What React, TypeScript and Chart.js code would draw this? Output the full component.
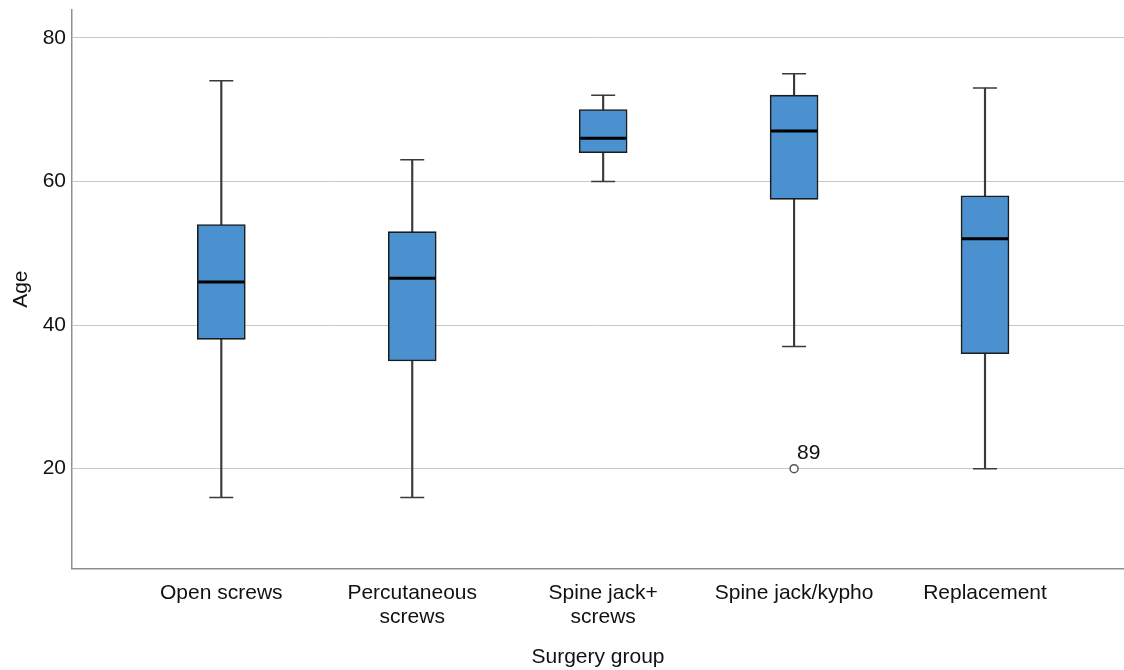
import React, { useEffect, useRef } from "react";
import { Chart, registerables } from "chart.js";

Chart.register(...registerables);

const categories: string[][] = [
  ["Open screws"],
  ["Percutaneous", "screws"],
  ["Spine jack+", "screws"],
  ["Spine jack/kypho"],
  ["Replacement"],
];
const whiskerLow = [16, 16, 60, 37, 20];
const q1 = [38, 35, 64, 57.5, 36];
const medians = [46, 46.5, 66, 67, 52];
const q3 = [54, 53, 70, 72, 58];
const whiskerHigh = [74, 63, 72, 75, 73];
const outlierGroup = [4];
const outlierValues = [20];
const outlierLabels = ["89"];
const yTicks = [20, 40, 60, 80];

const FONT = '"Liberation Sans", Arial, Helvetica, sans-serif';

const outlierLabelPlugin = {
  id: "outlierLabels",
  afterDatasetsDraw(chart: any) {
    const meta = chart.getDatasetMeta(4);
    const ctx = chart.ctx;
    ctx.save();
    ctx.font = `21px ${FONT}`;
    ctx.fillStyle = "#111";
    ctx.textAlign = "left";
    ctx.textBaseline = "alphabetic";
    meta.data.forEach((pt: any, i: number) => {
      ctx.fillText(outlierLabels[i], pt.x + 3, pt.y - 10);
    });
    ctx.restore();
  },
};

const zeroPadding = (axis: any) => {
  axis.paddingTop = 0;
  axis.paddingBottom = 0;
  axis.paddingLeft = 0;
  axis.paddingRight = 0;
};

export default function App() {
  const canvasRef = useRef<HTMLCanvasElement | null>(null);

  useEffect(() => {
    if (!canvasRef.current) return;
    Chart.defaults.font.family = FONT;
    const idx = categories.map((_, i) => i + 1);
    const chart = new Chart(canvasRef.current, {
      type: "bar",
      data: {
        datasets: [
          {
            type: "bar",
            label: "whiskers",
            data: idx.map((x, i) => ({ x, y: [whiskerLow[i], whiskerHigh[i]] })) as any,
            backgroundColor: "#3a3a3a",
            barThickness: 1.5,
            grouped: false,
            order: 4,
          } as any,
          {
            type: "bar",
            label: "boxes",
            data: idx.map((x, i) => ({ x, y: [q1[i], q3[i]] })) as any,
            backgroundColor: "#4b91cf",
            borderColor: "#1c1c1c",
            borderWidth: 1.6,
            borderSkipped: false,
            barThickness: 48,
            grouped: false,
            order: 3,
          } as any,
          {
            type: "scatter",
            label: "caps",
            data: [
              ...idx.map((x, i) => ({ x, y: whiskerLow[i] })),
              ...idx.map((x, i) => ({ x, y: whiskerHigh[i] })),
            ],
            pointStyle: "line",
            radius: 12,
            borderWidth: 1.5,
            borderColor: "#3a3a3a",
            order: 2,
          } as any,
          {
            type: "scatter",
            label: "medians",
            data: idx.map((x, i) => ({ x, y: medians[i] })),
            pointStyle: "line",
            radius: 23,
            borderWidth: 3,
            borderColor: "#000000",
            order: 1,
          } as any,
          {
            type: "scatter",
            label: "outliers",
            data: outlierGroup.map((g, i) => ({ x: g, y: outlierValues[i] })),
            pointStyle: "circle",
            radius: 4,
            backgroundColor: "#ffffff",
            borderColor: "#555555",
            borderWidth: 1.5,
            order: 0,
          } as any,
        ],
      },
      options: {
        animation: false,
        responsive: false,
        events: [],
        layout: { autoPadding: false, padding: { top: 10, right: 0, left: 0, bottom: 0 } },
        plugins: {
          legend: { display: false },
          tooltip: { enabled: false },
        },
        scales: {
          x: {
            type: "linear",
            offset: false,
            min: 0.218,
            max: 5.728,
            afterBuildTicks: (axis: any) => {
              axis.ticks = idx.map((v) => ({ value: v }));
            },
            afterFit: (axis: any) => {
              axis.height = 101.7;
              zeroPadding(axis);
            },
            ticks: {
              autoSkip: false,
              maxRotation: 0,
              padding: 13,
              color: "#111",
              font: { size: 21, lineHeight: 1.15 },
              callback: (v: any) => categories[Math.round(Number(v)) - 1] ?? "",
            },
            grid: { display: false, drawTicks: false, offset: false },
            border: { display: true, color: "#8f8f8f", width: 1.5 },
            title: {
              display: true,
              text: "Surgery group",
              color: "#111",
              font: { size: 21 },
              padding: { top: 0, bottom: 0 },
            },
          } as any,
          y: {
            type: "linear",
            min: 6.13,
            max: 83.86,
            afterBuildTicks: (axis: any) => {
              axis.ticks = yTicks.map((v) => ({ value: v }));
            },
            afterFit: (axis: any) => {
              axis.width = 72;
              zeroPadding(axis);
            },
            ticks: {
              padding: 6,
              color: "#111",
              font: { size: 21 },
            },
            grid: { color: "#c8c8c8", lineWidth: 1, drawTicks: false },
            border: { display: true, color: "#8f8f8f", width: 1.5 },
            title: {
              display: true,
              text: "Age",
              color: "#111",
              font: { size: 21 },
              padding: { top: 9, bottom: 0 },
            },
          } as any,
        },
      },
      plugins: [outlierLabelPlugin],
    });
    return () => chart.destroy();
  }, []);

  return (
    <div style={{ position: "fixed", left: 0, top: 0, width: 1124, height: 670, background: "#fff" }}>
      <canvas ref={canvasRef} width={1124} height={670} />
    </div>
  );
}
